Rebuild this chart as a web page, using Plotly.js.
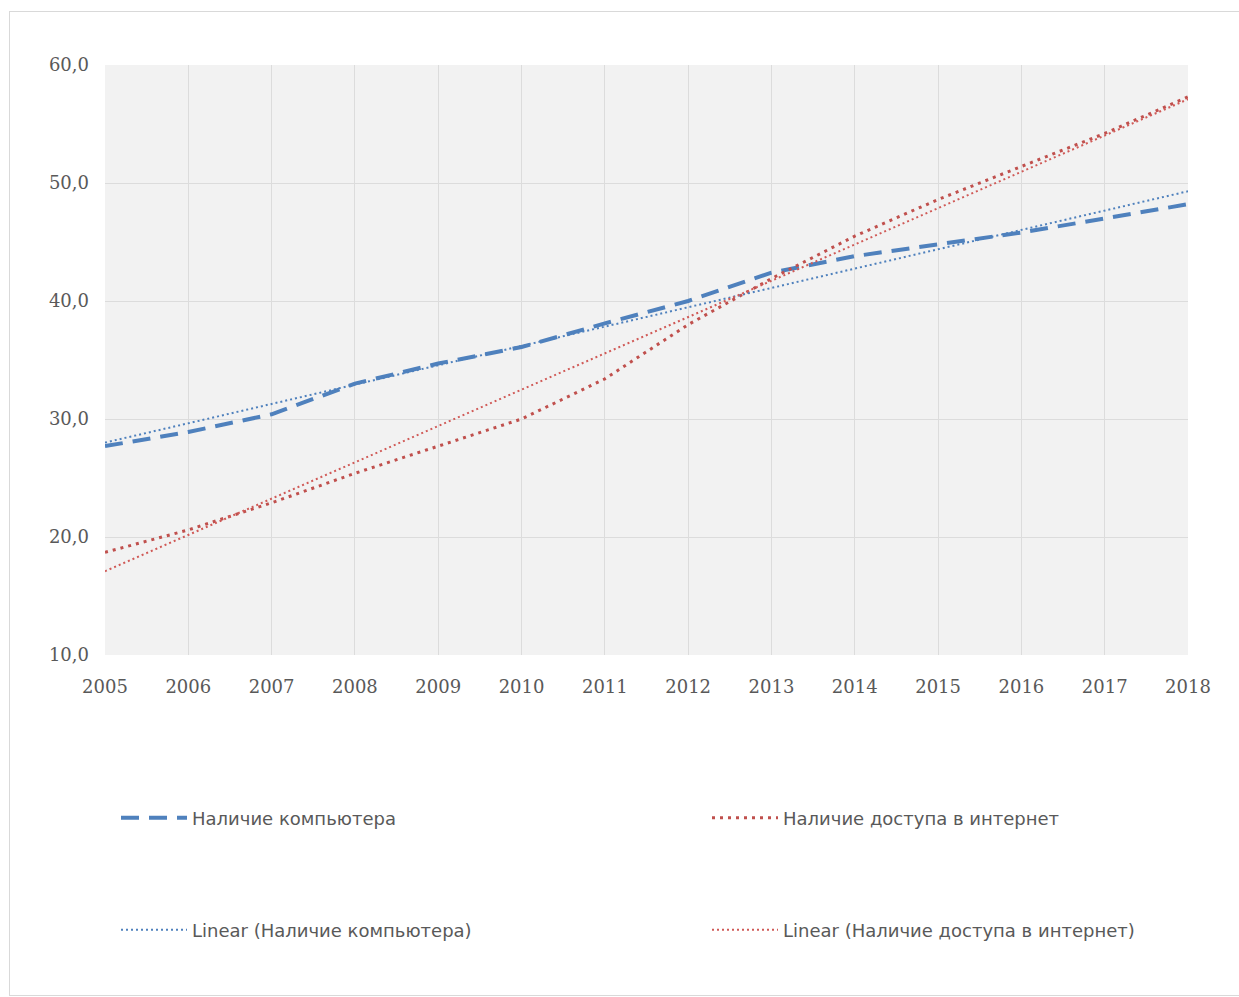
<!DOCTYPE html>
<html>
<head>
<meta charset="utf-8">
<script src="https://cdn.plot.ly/plotly-3.0.1.min.js"></script>
<style>
html,body{margin:0;padding:0;background:#fff;}
#wrap{position:relative;width:1239px;height:997px;}
#chart{width:1239px;height:997px;}
#frame{position:absolute;left:9px;top:11px;width:1232px;height:983px;border:1px solid #d9d9d9;pointer-events:none;}
</style>
</head>
<body>
<div id="wrap"><div id="chart"></div><div id="frame"></div></div>
<script>
const years = [2005,2006,2007,2008,2009,2010,2011,2012,2013,2014,2015,2016,2017,2018];
const computer = [27.7,28.9,30.4,33.0,34.7,36.1,38.1,40.0,42.4,43.8,44.8,45.8,47.0,48.2];
const internet = [18.7,20.6,22.9,25.4,27.7,30.0,33.4,38.0,41.9,45.5,48.6,51.4,54.2,57.3];
const trendYears = [2005,2018];
const trendComputer = [28.0,49.3];
const trendInternet = [17.1,57.1];
const yTicks = [10,20,30,40,50,60];
const yTickLabels = ["10,0","20,0","30,0","40,0","50,0","60,0"];
const seriesNames = ["Наличие компьютера","Наличие доступа в интернет","Linear (Наличие компьютера)","Linear (Наличие доступа в интернет)"];

const blue = "#4f81bd", red = "#c0504d";
const traces = [
  {x:years,y:computer,name:seriesNames[0],mode:"lines",line:{color:blue,width:4,dash:"18px,10px"},legend:"legend"},
  {x:years,y:internet,name:seriesNames[1],mode:"lines",line:{color:red,width:3,dash:"3px,5px"},legend:"legend2"},
  {x:trendYears,y:trendComputer,name:seriesNames[2],mode:"lines",line:{color:blue,width:2,dash:"2px,3px"},legend:"legend3"},
  {x:trendYears,y:trendInternet,name:seriesNames[3],mode:"lines",line:{color:"#d05a57",width:2,dash:"2px,3px"},legend:"legend4"}
];
const tickFont = {family:"DejaVu Serif, Liberation Serif, serif",size:18,color:"#595959"};
const legFont = {family:"DejaVu Sans, Liberation Sans, sans-serif",size:18,color:"#595959"};
function leg(xpx, ypx){
  return {orientation:"h",xref:"container",yref:"container",x:xpx/1239,xanchor:"left",y:1-ypx/997,yanchor:"middle",
          font:legFont,bgcolor:"rgba(0,0,0,0)",itemwidth:66};
}
const layout = {
  width:1239,height:997,
  margin:{l:105,r:51,t:65,b:342,autoexpand:false},
  paper_bgcolor:"#ffffff",plot_bgcolor:"#f2f2f2",
  xaxis:{range:[2005,2018],tickvals:years,ticktext:years.map(String),showgrid:true,gridcolor:"#dcdcdc",gridwidth:1,zeroline:false,showline:false,ticks:"",tickfont:tickFont,ticklabelstandoff:19},
  yaxis:{range:[10,60],tickvals:yTicks,ticktext:yTickLabels,showgrid:true,gridcolor:"#dcdcdc",gridwidth:1,zeroline:false,showline:false,ticks:"",tickfont:tickFont,ticklabelstandoff:15},
  showlegend:true,
  legend:leg(116,818),
  legend2:leg(707,818),
  legend3:leg(116,930),
  legend4:leg(707,930)
};
Plotly.newPlot("chart",traces,layout,{displayModeBar:false,staticPlot:true});
</script>
</body>
</html>
